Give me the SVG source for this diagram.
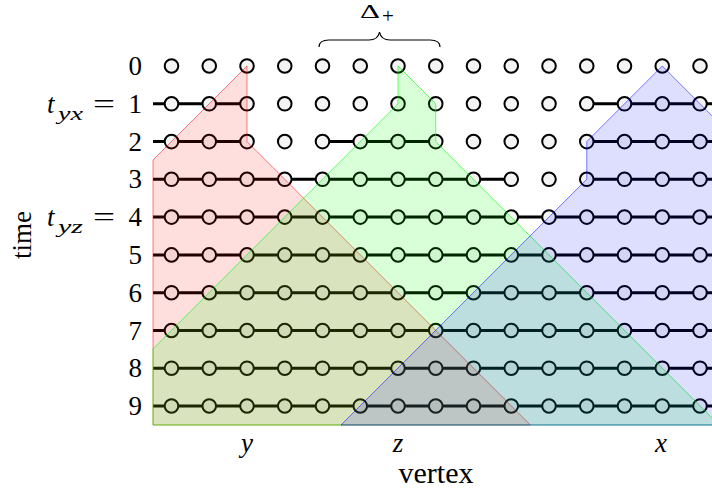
<svg xmlns="http://www.w3.org/2000/svg" width="712" height="494" viewBox="0 0 712 494">
<style>
.e{stroke:#000;stroke-width:3;fill:none}
.v{fill:#f4f4f4;stroke:#000;stroke-width:2}
.t{font-family:"Liberation Serif","Times New Roman",serif;font-size:27px;fill:#000}
.n{text-anchor:end}
.i{font-style:italic}
.s{font-size:19px}
.reg{stroke-width:1}
</style>
<rect width="712" height="494" fill="#fff"/>
<g id="connectors">
<path class="e" d="M153,103.8H247M586.75,103.8H720"/>
<path class="e" d="M153,141.6H247M322.5,141.6H435.75M586.75,141.6H720"/>
<path class="e" d="M153,179.3H511.25M586.75,179.3H720"/>
<path class="e" d="M153,217.1H720M153,254.9H720M153,292.7H720M153,330.5H720M153,368.2H720M153,406H720"/>
</g>
<g id="nodes">
<g id="r0">
<g id="v0-0"><circle class="v" cx="171.5" cy="66" r="6.8"/></g><g id="v0-1"><circle class="v" cx="209.25" cy="66" r="6.8"/></g><g id="v0-2"><circle class="v" cx="247" cy="66" r="6.8"/></g><g id="v0-3"><circle class="v" cx="284.75" cy="66" r="6.8"/></g><g id="v0-4"><circle class="v" cx="322.5" cy="66" r="6.8"/></g><g id="v0-5"><circle class="v" cx="360.25" cy="66" r="6.8"/></g><g id="v0-6"><circle class="v" cx="398" cy="66" r="6.8"/></g><g id="v0-7"><circle class="v" cx="435.75" cy="66" r="6.8"/></g><g id="v0-8"><circle class="v" cx="473.5" cy="66" r="6.8"/></g><g id="v0-9"><circle class="v" cx="511.25" cy="66" r="6.8"/></g><g id="v0-10"><circle class="v" cx="549" cy="66" r="6.8"/></g><g id="v0-11"><circle class="v" cx="586.75" cy="66" r="6.8"/></g><g id="v0-12"><circle class="v" cx="624.5" cy="66" r="6.8"/></g><g id="v0-13"><circle class="v" cx="662.25" cy="66" r="6.8"/></g><g id="v0-14"><circle class="v" cx="700" cy="66" r="6.8"/></g>
</g>
<g id="r1">
<g id="v1-0"><circle class="v" cx="171.5" cy="103.8" r="6.8"/></g><g id="v1-1"><circle class="v" cx="209.25" cy="103.8" r="6.8"/></g><g id="v1-2"><circle class="v" cx="247" cy="103.8" r="6.8"/></g><g id="v1-3"><circle class="v" cx="284.75" cy="103.8" r="6.8"/></g><g id="v1-4"><circle class="v" cx="322.5" cy="103.8" r="6.8"/></g><g id="v1-5"><circle class="v" cx="360.25" cy="103.8" r="6.8"/></g><g id="v1-6"><circle class="v" cx="398" cy="103.8" r="6.8"/></g><g id="v1-7"><circle class="v" cx="435.75" cy="103.8" r="6.8"/></g><g id="v1-8"><circle class="v" cx="473.5" cy="103.8" r="6.8"/></g><g id="v1-9"><circle class="v" cx="511.25" cy="103.8" r="6.8"/></g><g id="v1-10"><circle class="v" cx="549" cy="103.8" r="6.8"/></g><g id="v1-11"><circle class="v" cx="586.75" cy="103.8" r="6.8"/></g><g id="v1-12"><circle class="v" cx="624.5" cy="103.8" r="6.8"/></g><g id="v1-13"><circle class="v" cx="662.25" cy="103.8" r="6.8"/></g><g id="v1-14"><circle class="v" cx="700" cy="103.8" r="6.8"/></g>
</g>
<g id="r2">
<g id="v2-0"><circle class="v" cx="171.5" cy="141.6" r="6.8"/></g><g id="v2-1"><circle class="v" cx="209.25" cy="141.6" r="6.8"/></g><g id="v2-2"><circle class="v" cx="247" cy="141.6" r="6.8"/></g><g id="v2-3"><circle class="v" cx="284.75" cy="141.6" r="6.8"/></g><g id="v2-4"><circle class="v" cx="322.5" cy="141.6" r="6.8"/></g><g id="v2-5"><circle class="v" cx="360.25" cy="141.6" r="6.8"/></g><g id="v2-6"><circle class="v" cx="398" cy="141.6" r="6.8"/></g><g id="v2-7"><circle class="v" cx="435.75" cy="141.6" r="6.8"/></g><g id="v2-8"><circle class="v" cx="473.5" cy="141.6" r="6.8"/></g><g id="v2-9"><circle class="v" cx="511.25" cy="141.6" r="6.8"/></g><g id="v2-10"><circle class="v" cx="549" cy="141.6" r="6.8"/></g><g id="v2-11"><circle class="v" cx="586.75" cy="141.6" r="6.8"/></g><g id="v2-12"><circle class="v" cx="624.5" cy="141.6" r="6.8"/></g><g id="v2-13"><circle class="v" cx="662.25" cy="141.6" r="6.8"/></g><g id="v2-14"><circle class="v" cx="700" cy="141.6" r="6.8"/></g>
</g>
<g id="r3">
<g id="v3-0"><circle class="v" cx="171.5" cy="179.3" r="6.8"/></g><g id="v3-1"><circle class="v" cx="209.25" cy="179.3" r="6.8"/></g><g id="v3-2"><circle class="v" cx="247" cy="179.3" r="6.8"/></g><g id="v3-3"><circle class="v" cx="284.75" cy="179.3" r="6.8"/></g><g id="v3-4"><circle class="v" cx="322.5" cy="179.3" r="6.8"/></g><g id="v3-5"><circle class="v" cx="360.25" cy="179.3" r="6.8"/></g><g id="v3-6"><circle class="v" cx="398" cy="179.3" r="6.8"/></g><g id="v3-7"><circle class="v" cx="435.75" cy="179.3" r="6.8"/></g><g id="v3-8"><circle class="v" cx="473.5" cy="179.3" r="6.8"/></g><g id="v3-9"><circle class="v" cx="511.25" cy="179.3" r="6.8"/></g><g id="v3-10"><circle class="v" cx="549" cy="179.3" r="6.8"/></g><g id="v3-11"><circle class="v" cx="586.75" cy="179.3" r="6.8"/></g><g id="v3-12"><circle class="v" cx="624.5" cy="179.3" r="6.8"/></g><g id="v3-13"><circle class="v" cx="662.25" cy="179.3" r="6.8"/></g><g id="v3-14"><circle class="v" cx="700" cy="179.3" r="6.8"/></g>
</g>
<g id="r4">
<g id="v4-0"><circle class="v" cx="171.5" cy="217.1" r="6.8"/></g><g id="v4-1"><circle class="v" cx="209.25" cy="217.1" r="6.8"/></g><g id="v4-2"><circle class="v" cx="247" cy="217.1" r="6.8"/></g><g id="v4-3"><circle class="v" cx="284.75" cy="217.1" r="6.8"/></g><g id="v4-4"><circle class="v" cx="322.5" cy="217.1" r="6.8"/></g><g id="v4-5"><circle class="v" cx="360.25" cy="217.1" r="6.8"/></g><g id="v4-6"><circle class="v" cx="398" cy="217.1" r="6.8"/></g><g id="v4-7"><circle class="v" cx="435.75" cy="217.1" r="6.8"/></g><g id="v4-8"><circle class="v" cx="473.5" cy="217.1" r="6.8"/></g><g id="v4-9"><circle class="v" cx="511.25" cy="217.1" r="6.8"/></g><g id="v4-10"><circle class="v" cx="549" cy="217.1" r="6.8"/></g><g id="v4-11"><circle class="v" cx="586.75" cy="217.1" r="6.8"/></g><g id="v4-12"><circle class="v" cx="624.5" cy="217.1" r="6.8"/></g><g id="v4-13"><circle class="v" cx="662.25" cy="217.1" r="6.8"/></g><g id="v4-14"><circle class="v" cx="700" cy="217.1" r="6.8"/></g>
</g>
<g id="r5">
<g id="v5-0"><circle class="v" cx="171.5" cy="254.9" r="6.8"/></g><g id="v5-1"><circle class="v" cx="209.25" cy="254.9" r="6.8"/></g><g id="v5-2"><circle class="v" cx="247" cy="254.9" r="6.8"/></g><g id="v5-3"><circle class="v" cx="284.75" cy="254.9" r="6.8"/></g><g id="v5-4"><circle class="v" cx="322.5" cy="254.9" r="6.8"/></g><g id="v5-5"><circle class="v" cx="360.25" cy="254.9" r="6.8"/></g><g id="v5-6"><circle class="v" cx="398" cy="254.9" r="6.8"/></g><g id="v5-7"><circle class="v" cx="435.75" cy="254.9" r="6.8"/></g><g id="v5-8"><circle class="v" cx="473.5" cy="254.9" r="6.8"/></g><g id="v5-9"><circle class="v" cx="511.25" cy="254.9" r="6.8"/></g><g id="v5-10"><circle class="v" cx="549" cy="254.9" r="6.8"/></g><g id="v5-11"><circle class="v" cx="586.75" cy="254.9" r="6.8"/></g><g id="v5-12"><circle class="v" cx="624.5" cy="254.9" r="6.8"/></g><g id="v5-13"><circle class="v" cx="662.25" cy="254.9" r="6.8"/></g><g id="v5-14"><circle class="v" cx="700" cy="254.9" r="6.8"/></g>
</g>
<g id="r6">
<g id="v6-0"><circle class="v" cx="171.5" cy="292.7" r="6.8"/></g><g id="v6-1"><circle class="v" cx="209.25" cy="292.7" r="6.8"/></g><g id="v6-2"><circle class="v" cx="247" cy="292.7" r="6.8"/></g><g id="v6-3"><circle class="v" cx="284.75" cy="292.7" r="6.8"/></g><g id="v6-4"><circle class="v" cx="322.5" cy="292.7" r="6.8"/></g><g id="v6-5"><circle class="v" cx="360.25" cy="292.7" r="6.8"/></g><g id="v6-6"><circle class="v" cx="398" cy="292.7" r="6.8"/></g><g id="v6-7"><circle class="v" cx="435.75" cy="292.7" r="6.8"/></g><g id="v6-8"><circle class="v" cx="473.5" cy="292.7" r="6.8"/></g><g id="v6-9"><circle class="v" cx="511.25" cy="292.7" r="6.8"/></g><g id="v6-10"><circle class="v" cx="549" cy="292.7" r="6.8"/></g><g id="v6-11"><circle class="v" cx="586.75" cy="292.7" r="6.8"/></g><g id="v6-12"><circle class="v" cx="624.5" cy="292.7" r="6.8"/></g><g id="v6-13"><circle class="v" cx="662.25" cy="292.7" r="6.8"/></g><g id="v6-14"><circle class="v" cx="700" cy="292.7" r="6.8"/></g>
</g>
<g id="r7">
<g id="v7-0"><circle class="v" cx="171.5" cy="330.5" r="6.8"/></g><g id="v7-1"><circle class="v" cx="209.25" cy="330.5" r="6.8"/></g><g id="v7-2"><circle class="v" cx="247" cy="330.5" r="6.8"/></g><g id="v7-3"><circle class="v" cx="284.75" cy="330.5" r="6.8"/></g><g id="v7-4"><circle class="v" cx="322.5" cy="330.5" r="6.8"/></g><g id="v7-5"><circle class="v" cx="360.25" cy="330.5" r="6.8"/></g><g id="v7-6"><circle class="v" cx="398" cy="330.5" r="6.8"/></g><g id="v7-7"><circle class="v" cx="435.75" cy="330.5" r="6.8"/></g><g id="v7-8"><circle class="v" cx="473.5" cy="330.5" r="6.8"/></g><g id="v7-9"><circle class="v" cx="511.25" cy="330.5" r="6.8"/></g><g id="v7-10"><circle class="v" cx="549" cy="330.5" r="6.8"/></g><g id="v7-11"><circle class="v" cx="586.75" cy="330.5" r="6.8"/></g><g id="v7-12"><circle class="v" cx="624.5" cy="330.5" r="6.8"/></g><g id="v7-13"><circle class="v" cx="662.25" cy="330.5" r="6.8"/></g><g id="v7-14"><circle class="v" cx="700" cy="330.5" r="6.8"/></g>
</g>
<g id="r8">
<g id="v8-0"><circle class="v" cx="171.5" cy="368.2" r="6.8"/></g><g id="v8-1"><circle class="v" cx="209.25" cy="368.2" r="6.8"/></g><g id="v8-2"><circle class="v" cx="247" cy="368.2" r="6.8"/></g><g id="v8-3"><circle class="v" cx="284.75" cy="368.2" r="6.8"/></g><g id="v8-4"><circle class="v" cx="322.5" cy="368.2" r="6.8"/></g><g id="v8-5"><circle class="v" cx="360.25" cy="368.2" r="6.8"/></g><g id="v8-6"><circle class="v" cx="398" cy="368.2" r="6.8"/></g><g id="v8-7"><circle class="v" cx="435.75" cy="368.2" r="6.8"/></g><g id="v8-8"><circle class="v" cx="473.5" cy="368.2" r="6.8"/></g><g id="v8-9"><circle class="v" cx="511.25" cy="368.2" r="6.8"/></g><g id="v8-10"><circle class="v" cx="549" cy="368.2" r="6.8"/></g><g id="v8-11"><circle class="v" cx="586.75" cy="368.2" r="6.8"/></g><g id="v8-12"><circle class="v" cx="624.5" cy="368.2" r="6.8"/></g><g id="v8-13"><circle class="v" cx="662.25" cy="368.2" r="6.8"/></g><g id="v8-14"><circle class="v" cx="700" cy="368.2" r="6.8"/></g>
</g>
<g id="r9">
<g id="v9-0"><circle class="v" cx="171.5" cy="406" r="6.8"/></g><g id="v9-1"><circle class="v" cx="209.25" cy="406" r="6.8"/></g><g id="v9-2"><circle class="v" cx="247" cy="406" r="6.8"/></g><g id="v9-3"><circle class="v" cx="284.75" cy="406" r="6.8"/></g><g id="v9-4"><circle class="v" cx="322.5" cy="406" r="6.8"/></g><g id="v9-5"><circle class="v" cx="360.25" cy="406" r="6.8"/></g><g id="v9-6"><circle class="v" cx="398" cy="406" r="6.8"/></g><g id="v9-7"><circle class="v" cx="435.75" cy="406" r="6.8"/></g><g id="v9-8"><circle class="v" cx="473.5" cy="406" r="6.8"/></g><g id="v9-9"><circle class="v" cx="511.25" cy="406" r="6.8"/></g><g id="v9-10"><circle class="v" cx="549" cy="406" r="6.8"/></g><g id="v9-11"><circle class="v" cx="586.75" cy="406" r="6.8"/></g><g id="v9-12"><circle class="v" cx="624.5" cy="406" r="6.8"/></g><g id="v9-13"><circle class="v" cx="662.25" cy="406" r="6.8"/></g><g id="v9-14"><circle class="v" cx="700" cy="406" r="6.8"/></g>
</g>
</g>
<g id="regions">
<polygon id="cone-y" class="reg" points="153,160 247,66 247,141.6 530.4,425 153,425" fill="#ff0000" fill-opacity="0.13" stroke="#ff0000" stroke-opacity="0.5"/>
<polygon id="cone-z" class="reg" points="153,348.8 398,103.8 398,66 435.75,103.8 435.75,141.6 719.2,425 153,425" fill="#00ff00" fill-opacity="0.15" stroke="#00ff00" stroke-opacity="0.6"/>
<polygon id="cone-x" class="reg" points="341,425 586.75,179.3 586.75,141.6 662.25,66 1021.25,425" fill="#0000ff" fill-opacity="0.13" stroke="#0000ff" stroke-opacity="0.5"/>
</g>
<g id="labels">
<text class="t n" x="142" y="75">0</text>
<text class="t n" x="142" y="112.8">1</text>
<text class="t n" x="142" y="150.6">2</text>
<text class="t n" x="142" y="188.3">3</text>
<text class="t n" x="142" y="226.1">4</text>
<text class="t n" x="142" y="263.9">5</text>
<text class="t n" x="142" y="301.7">6</text>
<text class="t n" x="142" y="339.5">7</text>
<text class="t n" x="142" y="377.2">8</text>
<text class="t n" x="142" y="415">9</text>
<text class="t i" x="47" y="112.8">t</text>
<text class="t i s" x="58" y="120" textLength="25" lengthAdjust="spacingAndGlyphs">yx</text>
<text class="t" x="93" y="112.8" textLength="22" lengthAdjust="spacingAndGlyphs">=</text>
<text class="t i" x="47" y="226.1">t</text>
<text class="t i s" x="58" y="233.3" textLength="25" lengthAdjust="spacingAndGlyphs">yz</text>
<text class="t" x="93" y="226.1" textLength="22" lengthAdjust="spacingAndGlyphs">=</text>
<text class="t" transform="translate(31,235) rotate(-90)" text-anchor="middle" font-size="29">time</text>
<text class="t i" x="247" y="452" text-anchor="middle">y</text>
<text class="t i" x="398" y="452" text-anchor="middle">z</text>
<text class="t i" x="661" y="452" text-anchor="middle">x</text>
<text class="t" x="436" y="483" text-anchor="middle" style="font-size:30px">vertex</text>
<text class="t" x="360" y="18" style="font-size:19px" textLength="20" lengthAdjust="spacingAndGlyphs">Δ</text>
<text class="t" x="382" y="23" style="font-size:21px">+</text>
<path d="M319,47 Q319,40 329,40 L369,40 Q378,40 379.5,32 Q381,40 390,40 L430,40 Q440,40 440,47" fill="none" stroke="#000" stroke-width="1.2"/>
</g>
</svg>
